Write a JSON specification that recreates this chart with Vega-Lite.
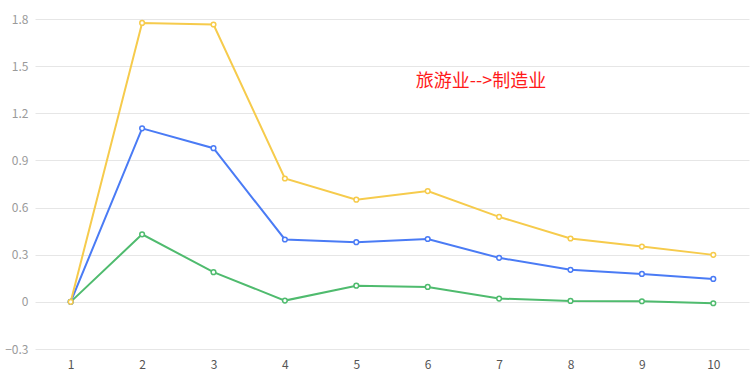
{
  "$schema": "https://vega.github.io/schema/vega-lite/v6.json",
  "width": 714,
  "height": 330,
  "autosize": {"type": "none"},
  "padding": {"left": 35, "top": 19, "right": 6, "bottom": 33},
  "config": {
    "view": {"stroke": null},
    "font": "Noto Sans CJK SC"
  },
  "datasets": {
    "series": [
      {"x": "1", "s": "g", "v": 0}, {"x": "2", "s": "g", "v": 0.43}, {"x": "3", "s": "g", "v": 0.189},
      {"x": "4", "s": "g", "v": 0.008}, {"x": "5", "s": "g", "v": 0.103}, {"x": "6", "s": "g", "v": 0.095},
      {"x": "7", "s": "g", "v": 0.021}, {"x": "8", "s": "g", "v": 0.006}, {"x": "9", "s": "g", "v": 0.004}, {"x": "10", "s": "g", "v": -0.009},
      {"x": "1", "s": "b", "v": 0}, {"x": "2", "s": "b", "v": 1.104}, {"x": "3", "s": "b", "v": 0.978},
      {"x": "4", "s": "b", "v": 0.397}, {"x": "5", "s": "b", "v": 0.38}, {"x": "6", "s": "b", "v": 0.4},
      {"x": "7", "s": "b", "v": 0.28}, {"x": "8", "s": "b", "v": 0.204}, {"x": "9", "s": "b", "v": 0.178}, {"x": "10", "s": "b", "v": 0.146},
      {"x": "1", "s": "y", "v": 0}, {"x": "2", "s": "y", "v": 1.775}, {"x": "3", "s": "y", "v": 1.765},
      {"x": "4", "s": "y", "v": 0.785}, {"x": "5", "s": "y", "v": 0.65}, {"x": "6", "s": "y", "v": 0.705},
      {"x": "7", "s": "y", "v": 0.541}, {"x": "8", "s": "y", "v": 0.403}, {"x": "9", "s": "y", "v": 0.352}, {"x": "10", "s": "y", "v": 0.299}
    ],
    "note": [{"x": "6", "v": 1.4, "t": "旅游业-->制造业"}]
  },
  "layer": [
    {
      "data": {"name": "series"},
      "mark": {"type": "line", "strokeWidth": 2, "point": {"filled": false, "fill": "white", "size": 22, "strokeWidth": 1.5}},
      "encoding": {
        "x": {
          "field": "x", "type": "ordinal", "sort": ["1","2","3","4","5","6","7","8","9","10"],
          "scale": {"type": "point", "padding": 0.5},
          "axis": {"title": null, "domain": false, "ticks": false, "labelAngle": 0, "labelPadding": 10, "labelColor": "#555", "labelFontSize": 12, "grid": false}
        },
        "y": {
          "field": "v", "type": "quantitative",
          "scale": {"domain": [-0.3, 1.8], "nice": false, "zero": false},
          "axis": {"title": null, "domain": false, "ticks": false, "values": [-0.3, 0, 0.3, 0.6, 0.9, 1.2, 1.5, 1.8], "labelPadding": 7, "labelColor": "#9a9a9a", "labelFontSize": 12, "gridColor": "#e6e6e6", "format": "~g"}
        },
        "color": {
          "field": "s", "type": "nominal", "legend": null,
          "scale": {"domain": ["b", "g", "y"], "range": ["#4a7bf5", "#4fbb6e", "#f6cb4c"]}
        }
      }
    },
    {
      "data": {"name": "note"},
      "mark": {"type": "text", "align": "left", "baseline": "middle", "dx": -12, "fontSize": 18, "color": "#ff1a1a"},
      "encoding": {
        "x": {"field": "x", "type": "ordinal", "sort": ["1","2","3","4","5","6","7","8","9","10"]},
        "y": {"field": "v", "type": "quantitative"},
        "text": {"field": "t"}
      }
    }
  ]
}
